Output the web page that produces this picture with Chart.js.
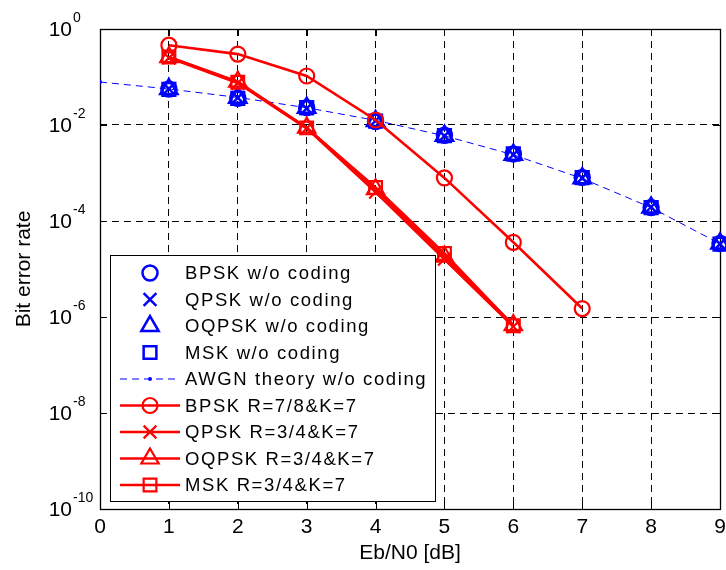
<!DOCTYPE html>
<html><head><meta charset="utf-8">
<script src="https://cdn.jsdelivr.net/npm/chart.js@4/dist/chart.umd.min.js"></script>
<style>html,body{margin:0;padding:0;background:#fff;overflow:hidden}#c{display:block}</style>
</head><body>
<canvas id="c" width="726" height="570"></canvas>
<script>
// ---------- data ----------
const ebn0Uncoded = [1, 2, 3, 4, 5, 6, 7, 8, 9];
const theoryX     = [0, 1, 2, 3, 4, 5, 6, 7, 8, 9];
const bpskUncoded  = [0.056, 0.036, 0.023, 0.0118, 0.0061, 0.0025, 8.1e-4, 1.9e-4, 3.4e-5];
const qpskUncoded  = [0.057, 0.037, 0.022, 0.0122, 0.0059, 0.0024, 7.9e-4, 1.95e-4, 3.3e-5];
const oqpskUncoded = [0.056, 0.037, 0.023, 0.0121, 0.0060, 0.0024, 7.8e-4, 1.9e-4, 3.4e-5];
const mskUncoded   = [0.055, 0.036, 0.023, 0.0120, 0.0060, 0.0025, 8.0e-4, 1.9e-4, 3.3e-5];
const awgnTheory   = [0.0786, 0.0563, 0.0375, 0.0229, 0.0125, 0.00595, 0.00239, 7.7e-4, 1.9e-4, 3.36e-5];

const ebn0BpskCoded = [1, 2, 3, 4, 5, 6, 7];
const ebn0Coded     = [1, 2, 3, 4, 5, 6];
const bpskCoded  = [0.46, 0.30, 0.105, 0.0127, 7.9e-4, 3.6e-5, 1.5e-6];
const qpskCoded  = [0.25, 0.075, 0.0085, 4.0e-4, 1.6e-5, 6.3e-7];
const oqpskCoded = [0.26, 0.080, 0.0088, 4.6e-4, 1.8e-5, 6.8e-7];
const mskCoded   = [0.26, 0.078, 0.0087, 5.0e-4, 2.1e-5, 6.6e-7];

const xTicks = [0, 1, 2, 3, 4, 5, 6, 7, 8, 9];
const yTickExponents = [0, -2, -4, -6, -8, -10];
const xTitle = 'Eb/N0 [dB]';
const yTitle = 'Bit error rate';

// ---------- styles ----------
const BLUE = '#0000ff', RED = '#ff0000', NONE = 'rgba(0,0,0,0)';
const FONT = '"Liberation Sans", Arial, sans-serif';

function pts(xs, ys) { return xs.map((x, i) => ({ x: x, y: ys[i] })); }

function uncoded(label, xs, ys, style, r, order) {
  return { label, data: pts(xs, ys), showLine: false, pointStyle: style, pointRadius: r,
    borderColor: BLUE, pointBorderColor: BLUE, pointBackgroundColor: NONE, pointBorderWidth: 2.5,
    backgroundColor: NONE, order, clip: false };
}
function coded(label, xs, ys, style, r, order) {
  return { label, data: pts(xs, ys), showLine: true, borderWidth: 2.6, pointStyle: style, pointRadius: r,
    borderColor: RED, pointBorderColor: RED, pointBackgroundColor: NONE, pointBorderWidth: 2.2,
    backgroundColor: NONE, order, clip: false };
}

const datasets = [
  uncoded('BPSK w/o coding',  ebn0Uncoded, bpskUncoded,  'circle',   7.5, 9),
  uncoded('QPSK w/o coding',  ebn0Uncoded, qpskUncoded,  'crossRot', 9,   8),
  uncoded('OQPSK w/o coding', ebn0Uncoded, oqpskUncoded, 'triangle', 10,  7),
  uncoded('MSK w/o coding',   ebn0Uncoded, mskUncoded,   'rect',     9,   6),
  { label: 'AWGN theory w/o coding', data: pts(theoryX, awgnTheory), showLine: true,
    borderColor: BLUE, borderWidth: 1, borderDash: [7, 5], pointStyle: 'circle', pointRadius: 2,
    pointBackgroundColor: BLUE, pointBorderColor: BLUE, pointBorderWidth: 0, backgroundColor: NONE, order: 10 },
  coded('BPSK R=7/8&K=7',  ebn0BpskCoded, bpskCoded,  'circle',   7.5, 4),
  coded('QPSK R=3/4&K=7',  ebn0Coded,     qpskCoded,  'crossRot', 9,   3),
  coded('OQPSK R=3/4&K=7', ebn0Coded,     oqpskCoded, 'triangle', 10,  2),
  coded('MSK R=3/4&K=7',   ebn0Coded,     mskCoded,   'rect',     9,   1)
];

// marker geometry mirroring Chart.js drawPoint
function marker(ctx, style, r, x, y, lw, stroke, fill) {
  ctx.save();
  ctx.lineWidth = lw; ctx.strokeStyle = stroke; ctx.fillStyle = fill;
  ctx.beginPath();
  if (style === 'circle') { ctx.arc(x, y, r, 0, Math.PI * 2); }
  else if (style === 'rect') { const s = Math.SQRT1_2 * r; ctx.rect(x - s, y - s, 2 * s, 2 * s); }
  else if (style === 'triangle') {
    let a = 0;
    ctx.moveTo(x + Math.sin(a) * r, y - Math.cos(a) * r); a += 2 * Math.PI / 3;
    ctx.lineTo(x + Math.sin(a) * r, y - Math.cos(a) * r); a += 2 * Math.PI / 3;
    ctx.lineTo(x + Math.sin(a) * r, y - Math.cos(a) * r); ctx.closePath();
  } else if (style === 'crossRot') {
    const o = Math.SQRT1_2 * r;
    ctx.moveTo(x - o, y - o); ctx.lineTo(x + o, y + o);
    ctx.moveTo(x - o, y + o); ctx.lineTo(x + o, y - o);
  }
  ctx.fill();
  if (lw > 0) ctx.stroke();
  ctx.restore();
}

const framePlugin = {
  id: 'frame',
  beforeDatasetsDraw(chart) {
    const { ctx, chartArea: a, scales } = chart;
    ctx.save();
    ctx.strokeStyle = '#000'; ctx.lineWidth = 1.3;
    ctx.strokeRect(Math.round(a.left) + 0.5, Math.round(a.top) + 0.5, Math.round(a.right - a.left), Math.round(a.bottom - a.top));
    ctx.beginPath();
    ctx.lineWidth = 1;
    const tl = 7;
    xTicks.forEach(v => {
      const px = Math.round(scales.x.getPixelForValue(v)) + 0.5;
      ctx.moveTo(px, a.bottom); ctx.lineTo(px, a.bottom - tl);
      ctx.moveTo(px, a.top); ctx.lineTo(px, a.top + tl);
    });
    yTickExponents.forEach(e => {
      const py = Math.round(scales.y.getPixelForValue(Math.pow(10, e))) + 0.5;
      ctx.moveTo(a.left, py); ctx.lineTo(a.left + tl, py);
      ctx.moveTo(a.right, py); ctx.lineTo(a.right - tl, py);
    });
    ctx.stroke();
    ctx.restore();
  },
  afterDraw(chart) {
    const { ctx, chartArea: a, scales } = chart;
    ctx.save();
    ctx.fillStyle = '#000';
    // x tick labels
    ctx.font = '21px ' + FONT; ctx.textAlign = 'center'; ctx.textBaseline = 'middle';
    xTicks.forEach(v => { ctx.fillText(String(v), scales.x.getPixelForValue(v), a.bottom + 18); });
    // y tick labels 10^e
    yTickExponents.forEach(e => {
      const py = scales.y.getPixelForValue(Math.pow(10, e));
      ctx.font = '21px ' + FONT; ctx.textAlign = 'right'; ctx.textBaseline = 'middle';
      ctx.fillText('10', 72, py + 1);
      ctx.font = '14px ' + FONT; ctx.textAlign = 'left'; ctx.textBaseline = 'alphabetic';
      ctx.fillText(String(e), 73, py - 7);
    });
    // axis titles
    ctx.font = '21px ' + FONT; ctx.textAlign = 'center'; ctx.textBaseline = 'middle';
    ctx.fillText(xTitle, (a.left + a.right) / 2, 553);
    ctx.save();
    ctx.translate(24, (a.top + a.bottom) / 2);
    ctx.rotate(-Math.PI / 2);
    ctx.fillText(yTitle, 0, 0);
    ctx.restore();

    // legend
    const bx = 110, by = 255, bw = 325, bh = 246;
    ctx.fillStyle = '#fff';
    ctx.fillRect(bx, by, bw, bh);
    ctx.strokeStyle = '#000'; ctx.lineWidth = 1;
    ctx.strokeRect(bx + 0.5, by + 0.5, bw, bh);
    const rowH = 26.5, y0 = 273;
    chart.data.datasets.forEach((ds, i) => {
      const ry = y0 + i * rowH;
      if (ds.showLine) {
        ctx.save();
        ctx.strokeStyle = ds.borderColor; ctx.lineWidth = ds.borderWidth;
        ctx.setLineDash(ds.borderDash || []);
        ctx.beginPath(); ctx.moveTo(120, ry); ctx.lineTo(180, ry); ctx.stroke();
        ctx.restore();
      }
      marker(ctx, ds.pointStyle, ds.pointRadius, 150, ry, ds.pointBorderWidth,
             ds.pointBorderColor, ds.pointBackgroundColor);
      ctx.save();
      ctx.fillStyle = '#000';
      ctx.font = '18.5px ' + FONT; ctx.textAlign = 'left'; ctx.textBaseline = 'middle';
      try { ctx.letterSpacing = '1.6px'; } catch (err) {}
      ctx.fillText(ds.label, 185, ry + 1);
      ctx.restore();
    });
    ctx.restore();
  }
};

new Chart(document.getElementById('c'), {
  type: 'scatter',
  data: { datasets },
  options: {
    responsive: false, animation: false, events: [],
    layout: { autoPadding: false, padding: { top: 29, right: 6, left: 0, bottom: 0 } },
    plugins: { legend: { display: false }, tooltip: { enabled: false } },
    elements: { line: { tension: 0 } },
    scales: {
      x: {
        type: 'linear', min: 0, max: 9,
        afterBuildTicks: s => { s.ticks = xTicks.map(v => ({ value: v })); },
        afterFit: s => { s.height = 61; },
        ticks: { display: false },
        grid: { color: c => (c.tick && (c.tick.value === 0 || c.tick.value === 9)) ? NONE : '#000',
                lineWidth: 1, drawTicks: false },
        border: { display: false, dash: [7, 5] }
      },
      y: {
        type: 'logarithmic', min: 1e-10, max: 1,
        afterBuildTicks: s => { s.ticks = yTickExponents.map(e => ({ value: Math.pow(10, e) })); },
        afterFit: s => { s.width = 100; },
        ticks: { display: false },
        grid: { color: c => (c.tick && (c.tick.value >= 1 || c.tick.value <= 1e-10)) ? NONE : '#000',
                lineWidth: 1, drawTicks: false },
        border: { display: false, dash: [7, 5] }
      }
    }
  },
  plugins: [framePlugin]
});
</script>
</body></html>
